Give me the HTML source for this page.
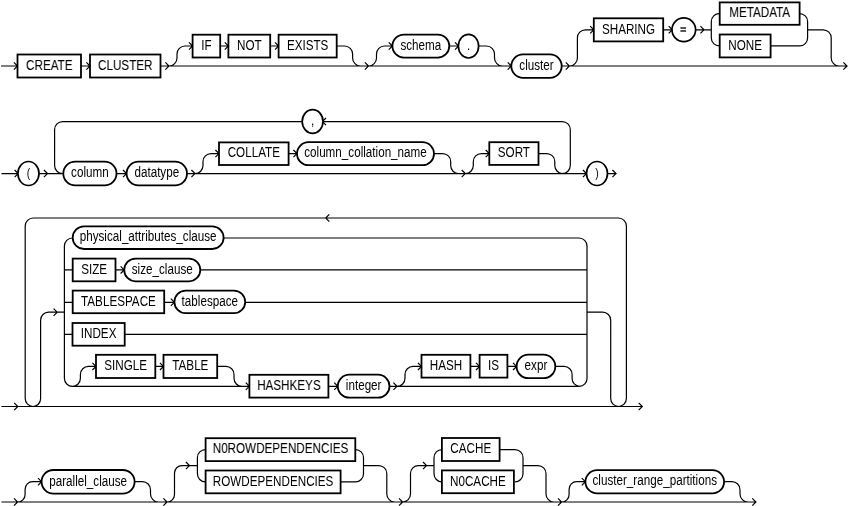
<!DOCTYPE html>
<html><head><meta charset="utf-8"><style>
html,body{margin:0;padding:0;background:#fff;width:850px;height:506px;overflow:hidden}
svg{display:block;filter:grayscale(1)}
.b{fill:#fff;stroke:#000;stroke-width:1.8}
text{font-family:"Liberation Sans",sans-serif;font-size:14.5px;fill:#000;text-anchor:middle}
</style></head><body>
<svg xmlns="http://www.w3.org/2000/svg" width="850" height="506" viewBox="0 0 850 506"><path d="M1.00 66.00H17.50M13.90 62.40L17.50 66.00L13.90 69.60M81.00 66.00H90.00M86.40 62.40L90.00 66.00L86.40 69.60M160.50 66.00H511.30M165.40 62.40L169.00 66.00L165.40 69.60M169.00 66.00A8.0 8.0 0 0 0 177.00 58.00V54.00A8.0 8.0 0 0 1 185.00 46.00H192.60M189.00 42.40L192.60 46.00L189.00 49.60M220.20 46.00H228.40M224.80 42.40L228.40 46.00L224.80 49.60M270.20 46.00H278.60M275.00 42.40L278.60 46.00L275.00 49.60M336.7 46.0H344.6M344.60 46.00A8.0 8.0 0 0 1 352.60 54.00V58.00A8.0 8.0 0 0 0 360.60 66.00H361.00M364.90 62.40L368.50 66.00L364.90 69.60M368.50 66.00A8.0 8.0 0 0 0 376.50 58.00V54.00A8.0 8.0 0 0 1 384.50 46.00H392.40M388.80 42.40L392.40 46.00L388.80 49.60M449.30 46.00H458.60M455.00 42.40L458.60 46.00L455.00 49.60M478.6 46.0H486.5M486.50 46.00A8.0 8.0 0 0 1 494.50 54.00V58.00A8.0 8.0 0 0 0 502.50 66.00H502.00M507.70 62.40L511.30 66.00L507.70 69.60M561.70 66.00H847.00M565.80 62.40L569.40 66.00L565.80 69.60M843.40 62.40L847.00 66.00L843.40 69.60M569.40 66.00A8.0 8.0 0 0 0 577.40 58.00V37.80A8.0 8.0 0 0 1 585.40 29.80H593.80M590.20 26.20L593.80 29.80L590.20 33.40M663.20 29.80H672.30M668.70 26.20L672.30 29.80L668.70 33.40M695.60 29.80H711.30M700.40 26.20L704.00 29.80L700.40 33.40M719.5 13.6A8.0 8.0 0 0 0 711.3 21.6V37.9A8.0 8.0 0 0 0 719.5 45.9M770.60 45.90H799.60M799.6 13.6A8.0 8.0 0 0 1 807.6 21.6V37.9A8.0 8.0 0 0 1 799.6 45.9M807.6 29.8H823.2M823.20 29.80A8.0 8.0 0 0 1 831.20 37.80V58.00A8.0 8.0 0 0 0 839.20 66.00H847.00M1.50 173.60H18.20M14.60 170.00L18.20 173.60L14.60 177.20M38.80 173.60H63.30M43.90 170.00L47.50 173.60L43.90 177.20M62.6 173.6A8.0 8.0 0 0 1 54.6 165.6V129.6A8.0 8.0 0 0 1 62.6 121.6H562.3A8.0 8.0 0 0 1 570.3 129.6V165.6A8.0 8.0 0 0 1 562.3 173.6M326.00 118.00L322.40 121.60L326.00 125.20M116.50 173.60H126.60M123.00 170.00L126.60 173.60L123.00 177.20M187.00 173.60H586.50M191.40 170.00L195.00 173.60L191.40 177.20M195.00 173.60A8.0 8.0 0 0 0 203.00 165.60V161.60A8.0 8.0 0 0 1 211.00 153.60H219.00M215.40 150.00L219.00 153.60L215.40 157.20M288.60 153.60H297.00M293.40 150.00L297.00 153.60L293.40 157.20M434 153.6H442.7M442.70 153.60A8.0 8.0 0 0 1 450.70 161.60V165.60A8.0 8.0 0 0 0 458.70 173.60H458.00M461.70 170.00L465.30 173.60L461.70 177.20M465.30 173.60A8.0 8.0 0 0 0 473.30 165.60V161.60A8.0 8.0 0 0 1 481.30 153.60H489.30M485.70 150.00L489.30 153.60L485.70 157.20M538.5 153.6H546.8M546.80 153.60A8.0 8.0 0 0 1 554.80 161.60V165.60A8.0 8.0 0 0 0 562.80 173.60H563.00M582.90 170.00L586.50 173.60L582.90 177.20M607.50 173.60H616.00M612.40 170.00L616.00 173.60L612.40 177.20M1.40 406.50H642.30M14.20 402.90L17.80 406.50L14.20 410.10M638.70 402.90L642.30 406.50L638.70 410.10M33.1 406.5A7.9 7.9 0 0 1 25.2 398.6V226.0A8.0 8.0 0 0 1 33.2 218.0H618.4A8.0 8.0 0 0 1 626.4 226.0V398.6A7.9 7.9 0 0 1 618.5 406.5M329.30 214.40L325.70 218.00L329.30 221.60M32.9 406.5A7.7 7.7 0 0 0 40.6 398.8V320.2A8.0 8.0 0 0 1 48.6 312.2H64.4M53.60 308.60L57.20 312.20L53.60 315.80M587 312.2H602.7A8.0 8.0 0 0 1 610.7 320.2V398.6A7.9 7.9 0 0 0 618.5 406.5M72.4 238.0A8.0 8.0 0 0 0 64.4 246.0V378.3A8.0 8.0 0 0 0 72.4 386.3M579 238.0A8.0 8.0 0 0 1 587 246.0V378.3A7.7 7.7 0 0 1 579.3 386.3M223.60 238.00H579.00M64.40 269.90H72.70M115.50 269.90H124.20M120.60 266.30L124.20 269.90L120.60 273.50M200.30 269.90H587.00M64.40 302.30H72.70M164.20 302.30H174.40M170.80 298.70L174.40 302.30L170.80 305.90M245.20 302.30H587.00M64.40 334.30H72.70M124.70 334.30H587.00M72.40 386.30H249.40M72.40 386.30A8.0 8.0 0 0 0 80.40 378.30V374.40A8.0 8.0 0 0 1 88.40 366.40H96.00M92.40 362.80L96.00 366.40L92.40 370.00M155.30 366.40H163.50M159.90 362.80L163.50 366.40L159.90 370.00M217.2 366.4H226M226.00 366.40A8.0 8.0 0 0 1 234.00 374.40V378.30A8.0 8.0 0 0 0 242.00 386.30H242.00M245.80 382.70L249.40 386.30L245.80 389.90M328.40 386.30H337.80M334.20 382.70L337.80 386.30L334.20 389.90M389.50 386.30H579.30M393.40 382.70L397.00 386.30L393.40 389.90M397.00 386.30A8.0 8.0 0 0 0 405.00 378.30V374.40A8.0 8.0 0 0 1 413.00 366.40H421.50M417.90 362.80L421.50 366.40L417.90 370.00M470.40 366.40H479.60M476.00 362.80L479.60 366.40L476.00 370.00M507.40 366.40H516.60M513.00 362.80L516.60 366.40L513.00 370.00M555.3 366.4H564.1A8.0 8.0 0 0 1 572.1 374.4V378.6A7.7 7.7 0 0 0 579.5 386.3M1.40 502.00H755.90M14.00 498.40L17.60 502.00L14.00 505.60M752.30 498.40L755.90 502.00L752.30 505.60M17.60 502.00A7.5 7.5 0 0 0 25.10 494.50V489.20A7.5 7.5 0 0 1 32.60 481.70H41.60M38.00 478.10L41.60 481.70L38.00 485.30M134.6 481.7H142.5M142.50 481.70A8 8 0 0 1 150.50 489.70V494.00A8 8 0 0 0 158.50 502.00H160.00M163.40 498.40L167.00 502.00L163.40 505.60M167.00 502.00A7.5 7.5 0 0 0 174.50 494.50V473.10A7.5 7.5 0 0 1 182.00 465.60H197.40M185.90 462.00L189.50 465.60L185.90 469.20M205.4 449.6A8.0 8.0 0 0 0 197.4 457.6V473.8A8.0 8.0 0 0 0 205.4 481.8M340.60 481.80H355.50M355.5 449.6A8.0 8.0 0 0 1 363.5 457.6V473.8A8.0 8.0 0 0 1 355.5 481.8M363.5 465.6H378.8M378.80 465.60A8.0 8.0 0 0 1 386.80 473.60V494.00A8.0 8.0 0 0 0 394.80 502.00H395.00M399.00 498.40L402.60 502.00L399.00 505.60M402.60 502.00A7.9 7.9 0 0 0 410.50 494.10V473.50A7.9 7.9 0 0 1 418.40 465.60H434.00M423.00 462.00L426.60 465.60L423.00 469.20M442 449.6A8.0 8.0 0 0 0 434 457.6V473.8A8.0 8.0 0 0 0 442 481.8M499.60 449.60H515.00M515 449.6A8.0 8.0 0 0 1 523 457.6V473.8A8.0 8.0 0 0 1 515 481.8M523 465.6H538M538.00 465.60A8.0 8.0 0 0 1 546.00 473.60V494.00A8.0 8.0 0 0 0 554.00 502.00H554.00M558.00 498.40L561.60 502.00L558.00 505.60M561.60 502.00A7.5 7.5 0 0 0 569.10 494.50V489.20A7.5 7.5 0 0 1 576.60 481.70H585.40M581.80 478.10L585.40 481.70L581.80 485.30M724.1 481.7H732M732.00 481.70A8.0 8.0 0 0 1 740.00 489.70V494.00A8.0 8.0 0 0 0 748.00 502.00H748.00" fill="none" stroke="#000" stroke-width="1.2" stroke-linejoin="miter"/><rect x="17.50" y="54.50" width="63.50" height="23.00" class="b"/><text transform="translate(49.25 69.70) scale(0.805 1)">CREATE</text><rect x="90.00" y="54.50" width="70.50" height="23.00" class="b"/><text transform="translate(125.25 69.70) scale(0.805 1)">CLUSTER</text><rect x="192.60" y="34.70" width="27.60" height="22.80" class="b"/><text transform="translate(206.40 49.80) scale(0.805 1)">IF</text><rect x="228.40" y="34.70" width="41.80" height="22.80" class="b"/><text transform="translate(249.30 49.80) scale(0.805 1)">NOT</text><rect x="278.60" y="34.70" width="58.10" height="22.80" class="b"/><text transform="translate(307.65 49.80) scale(0.805 1)">EXISTS</text><rect x="392.40" y="34.60" width="56.90" height="23.00" rx="11.50" ry="11.50" class="b"/><text transform="translate(420.85 49.80) scale(0.805 1)">schema</text><ellipse cx="468.50" cy="46.15" rx="10.10" ry="11.85" class="b" style="stroke-width:1.7"/><text transform="translate(468.50 49.85) scale(0.805 1)">.</text><rect x="511.30" y="54.40" width="50.40" height="23.40" rx="11.70" ry="11.70" class="b"/><text transform="translate(536.50 69.80) scale(0.805 1)">cluster</text><rect x="593.80" y="18.30" width="69.40" height="23.10" class="b"/><text transform="translate(628.50 33.55) scale(0.805 1)">SHARING</text><ellipse cx="683.80" cy="29.75" rx="11.80" ry="11.85" class="b" style="stroke-width:1.7"/><text transform="translate(683.80 33.45) scale(0.805 1)"></text><path d="M680.4 28H686.1M680.4 31H686.1" stroke="#222" stroke-width="1.4"/><rect x="719.70" y="2.40" width="79.90" height="22.40" class="b"/><text transform="translate(759.65 17.30) scale(0.805 1)">METADATA</text><rect x="719.70" y="34.50" width="50.90" height="22.90" class="b"/><text transform="translate(745.15 49.65) scale(0.805 1)">NONE</text><ellipse cx="28.45" cy="173.50" rx="10.55" ry="12.00" class="b" style="stroke-width:1.7"/><text transform="translate(28.45 177.20) scale(0.805 1)" style="font-size:13px">(</text><ellipse cx="312.60" cy="121.55" rx="10.40" ry="11.85" class="b" style="stroke-width:1.7"/><text transform="translate(312.60 125.25) scale(0.805 1)">,</text><rect x="63.30" y="161.60" width="53.20" height="23.80" rx="11.90" ry="11.90" class="b"/><text transform="translate(89.90 177.20) scale(0.805 1)">column</text><rect x="126.60" y="161.60" width="60.40" height="23.80" rx="11.90" ry="11.90" class="b"/><text transform="translate(156.80 177.20) scale(0.805 1)">datatype</text><rect x="219.00" y="142.40" width="69.60" height="22.60" class="b"/><text transform="translate(253.80 157.40) scale(0.805 1)">COLLATE</text><rect x="297.00" y="142.20" width="137.00" height="23.00" rx="11.50" ry="11.50" class="b"/><text transform="translate(365.50 157.40) scale(0.805 1)">column_collation_name</text><rect x="489.30" y="142.20" width="49.20" height="22.70" class="b"/><text transform="translate(513.90 157.25) scale(0.805 1)">SORT</text><ellipse cx="597.00" cy="173.50" rx="10.50" ry="12.00" class="b" style="stroke-width:1.7"/><text transform="translate(597.00 177.20) scale(0.805 1)" style="font-size:13px">)</text><rect x="72.70" y="226.40" width="150.90" height="22.60" rx="11.30" ry="11.30" class="b"/><text transform="translate(148.15 241.40) scale(0.805 1)">physical_attributes_clause</text><rect x="72.70" y="258.60" width="42.80" height="22.70" class="b"/><text transform="translate(94.10 273.65) scale(0.805 1)">SIZE</text><rect x="124.20" y="258.60" width="76.10" height="22.70" rx="11.35" ry="11.35" class="b"/><text transform="translate(162.25 273.65) scale(0.805 1)">size_clause</text><rect x="72.70" y="290.60" width="91.50" height="22.60" class="b"/><text transform="translate(118.45 305.60) scale(0.805 1)">TABLESPACE</text><rect x="174.40" y="290.60" width="70.80" height="22.60" rx="11.30" ry="11.30" class="b"/><text transform="translate(209.80 305.60) scale(0.805 1)">tablespace</text><rect x="72.50" y="323.00" width="52.20" height="22.70" class="b"/><text transform="translate(98.60 338.05) scale(0.805 1)">INDEX</text><rect x="96.00" y="354.80" width="59.30" height="23.20" class="b"/><text transform="translate(125.65 370.10) scale(0.805 1)">SINGLE</text><rect x="163.50" y="354.80" width="53.70" height="23.20" class="b"/><text transform="translate(190.35 370.10) scale(0.805 1)">TABLE</text><rect x="249.40" y="374.80" width="79.00" height="22.80" class="b"/><text transform="translate(288.90 389.90) scale(0.805 1)">HASHKEYS</text><rect x="337.80" y="374.70" width="51.70" height="23.00" rx="11.50" ry="11.50" class="b"/><text transform="translate(363.65 389.90) scale(0.805 1)">integer</text><rect x="421.50" y="354.80" width="48.90" height="22.80" class="b"/><text transform="translate(445.95 369.90) scale(0.805 1)">HASH</text><rect x="479.60" y="354.80" width="27.80" height="22.80" class="b"/><text transform="translate(493.50 369.90) scale(0.805 1)">IS</text><rect x="516.60" y="354.60" width="38.70" height="23.60" rx="11.80" ry="11.80" class="b"/><text transform="translate(535.95 370.10) scale(0.805 1)">expr</text><rect x="41.60" y="470.00" width="93.00" height="23.60" rx="11.80" ry="11.80" class="b"/><text transform="translate(88.10 485.50) scale(0.805 1)">parallel_clause</text><rect x="205.60" y="438.20" width="149.70" height="22.90" class="b"/><text transform="translate(280.45 453.35) scale(0.805 1)">N0ROWDEPENDENCIES</text><rect x="205.60" y="470.50" width="135.00" height="22.80" class="b"/><text transform="translate(273.10 485.60) scale(0.805 1)">ROWDEPENDENCIES</text><rect x="441.90" y="438.00" width="57.70" height="23.00" class="b"/><text transform="translate(470.75 453.20) scale(0.805 1)">CACHE</text><rect x="441.90" y="470.40" width="72.00" height="22.80" class="b"/><text transform="translate(477.90 485.50) scale(0.805 1)">N0CACHE</text><rect x="585.40" y="470.10" width="138.70" height="23.30" rx="11.65" ry="11.65" class="b"/><text transform="translate(654.75 485.45) scale(0.805 1)">cluster_range_partitions</text></svg>
</body></html>
